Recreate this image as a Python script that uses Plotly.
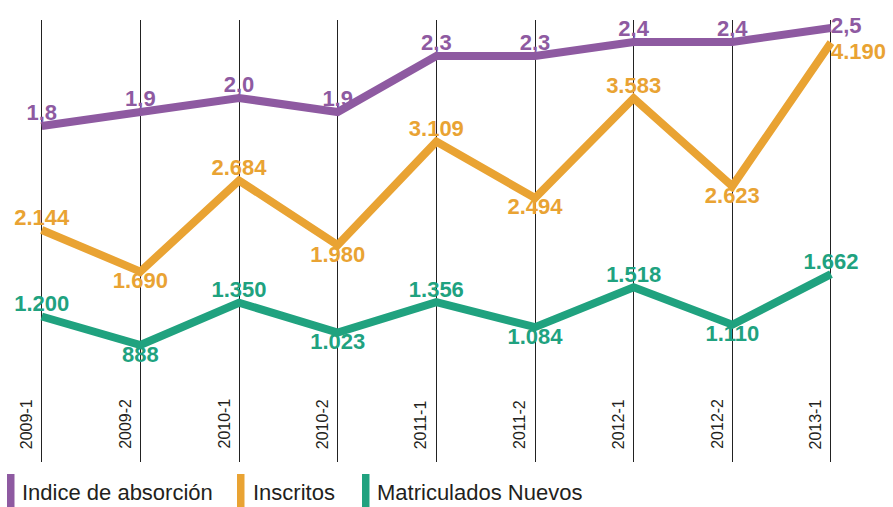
import plotly.graph_objects as go

categories = ["2009-1", "2009-2", "2010-1", "2010-2", "2011-1", "2011-2", "2012-1", "2012-2", "2013-1"]
indice = [1.8, 1.9, 2.0, 1.9, 2.3, 2.3, 2.4, 2.4, 2.5]
inscritos = [2144, 1690, 2684, 1980, 3109, 2494, 3583, 2623, 4190]
matriculados = [1200, 888, 1350, 1023, 1356, 1084, 1518, 1110, 1662]
series_names = ["Indice de absorción", "Inscritos", "Matriculados Nuevos"]

PURPLE = "#8E5AA1"
ORANGE = "#E9A333"
GREEN = "#20A27F"
TEXT = "#231F20"
W, H = 893, 507
TOP, BOTTOM = 20, 462
LABEL_FONT = "Liberation Sans"

x = list(range(len(categories)))

fig = go.Figure()

pos_alt = ["top center" if i % 2 == 0 else "bottom center" for i in x]

fig.add_trace(go.Scatter(
    x=x, y=matriculados, mode="lines+text", name=series_names[2],
    line=dict(color=GREEN, width=8), texttemplate="%{y:,}",
    textposition=pos_alt, textfont=dict(color=GREEN, size=22, family=LABEL_FONT, weight="bold"),
    cliponaxis=False, showlegend=False))

pos_or = pos_alt[:-1] + ["bottom right"]
fig.add_trace(go.Scatter(
    x=x, y=inscritos, mode="lines+text", name=series_names[1],
    line=dict(color=ORANGE, width=8), texttemplate="%{y:,}",
    textposition=pos_or, textfont=dict(color=ORANGE, size=22, family=LABEL_FONT, weight="bold"),
    cliponaxis=False, showlegend=False))

pos_pu = ["top center"] * (len(x) - 1) + ["middle right"]
fig.add_trace(go.Scatter(
    x=x, y=indice, mode="lines+text", name=series_names[0], yaxis="y2",
    line=dict(color=PURPLE, width=8), texttemplate="%{y:.1f}",
    textposition=pos_pu, textfont=dict(color=PURPLE, size=22, family=LABEL_FONT, weight="bold"),
    cliponaxis=False, showlegend=False))

spacing = 98.66
x0 = -41.7 / spacing
x1 = x0 + W / spacing

annotations = []
for i, c in enumerate(categories):
    annotations.append(dict(
        x=i, y=0, xref="x", yref="paper", text=c, showarrow=False, textangle=-90,
        xanchor="right", yanchor="bottom", xshift=-5, yshift=11,
        font=dict(family=LABEL_FONT, size=16, color=TEXT)))

plot_h = BOTTOM - TOP
def py(px):
    return (BOTTOM - px) / plot_h

legend_items = [(series_names[0], PURPLE, 7, 20), (series_names[1], ORANGE, 237, 251), (series_names[2], GREEN, 362, 375)]
shapes = []
for name, col, bx, tx in legend_items:
    shapes.append(dict(type="rect", xref="paper", yref="paper", x0=bx / W, x1=(bx + 7.5) / W,
                       y0=py(507), y1=py(474), fillcolor=col, line=dict(width=0)))
    annotations.append(dict(x=tx / W, y=py(492), xref="paper", yref="paper", text=name, showarrow=False,
                            xanchor="left", yanchor="middle",
                            font=dict(family=LABEL_FONT, size=22, color=TEXT)))

fig.update_layout(
    width=W, height=H, margin=dict(l=0, r=0, t=TOP, b=H - BOTTOM),
    paper_bgcolor="white", plot_bgcolor="white", separators=",.",
    xaxis=dict(range=[x0, x1], showgrid=True, gridcolor="#222222", gridwidth=1.3,
               tickvals=x, showticklabels=False, zeroline=False, showline=False, fixedrange=True),
    yaxis=dict(range=[-389, 4437], showgrid=False, showticklabels=False, zeroline=False, showline=False),
    yaxis2=dict(range=[-0.6, 2.557], overlaying="y", showgrid=False, showticklabels=False,
                zeroline=False, showline=False),
    annotations=annotations, shapes=shapes, showlegend=False,
)

fig.write_html("out.html", config={"displayModeBar": False},
               post_script="document.body.style.margin='0';document.body.style.overflow='hidden';")
